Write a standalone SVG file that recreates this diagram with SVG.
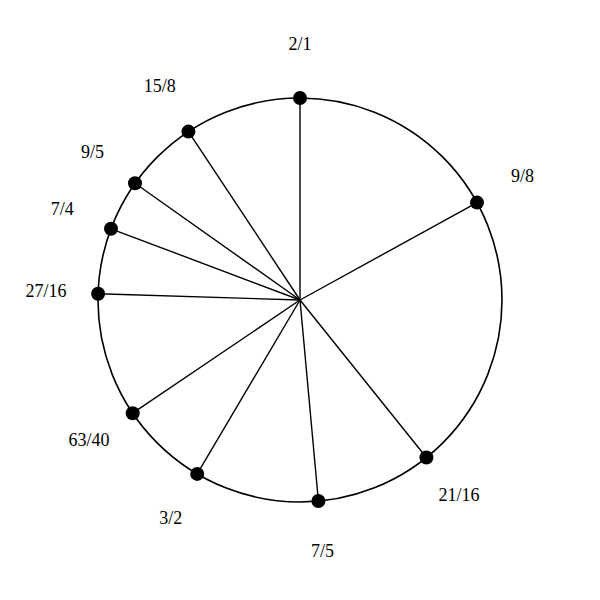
<svg xmlns="http://www.w3.org/2000/svg" width="600" height="600" viewBox="0 0 600 600">
<style>
.ring{fill:none;stroke:#000;stroke-width:1.6}
.spoke{stroke:#000;stroke-width:1.4}
.dot{fill:#000}
.lbl{font-family:"Liberation Serif","Times New Roman",serif;font-size:18px;fill:#000;text-anchor:middle}
</style>
<rect width="600" height="600" fill="#fff"/>
<circle class="ring" cx="300" cy="300" r="202"/>
<g id="connectors">
<line class="spoke" x1="300" y1="300" x2="300" y2="98"/>
<line class="spoke" x1="300" y1="300" x2="477" y2="202.6"/>
<line class="spoke" x1="300" y1="300" x2="426.4" y2="457.5"/>
<line class="spoke" x1="300" y1="300" x2="318.4" y2="501"/>
<line class="spoke" x1="300" y1="300" x2="197.2" y2="473.9"/>
<line class="spoke" x1="300" y1="300" x2="132.7" y2="413.2"/>
<line class="spoke" x1="300" y1="300" x2="98.1" y2="293.8"/>
<line class="spoke" x1="300" y1="300" x2="111" y2="228.8"/>
<line class="spoke" x1="300" y1="300" x2="135" y2="183.3"/>
<line class="spoke" x1="300" y1="300" x2="188.4" y2="131.6"/>
</g>
<g id="n-2-1"><circle class="dot" cx="300" cy="98" r="7"/><text class="lbl" x="300" y="50">2/1</text></g>
<g id="n-9-8"><circle class="dot" cx="477" cy="202.6" r="7"/><text class="lbl" x="522.5" y="182">9/8</text></g>
<g id="n-21-16"><circle class="dot" cx="426.4" cy="457.5" r="7"/><text class="lbl" x="459" y="501">21/16</text></g>
<g id="n-7-5"><circle class="dot" cx="318.4" cy="501" r="7"/><text class="lbl" x="322.5" y="557">7/5</text></g>
<g id="n-3-2"><circle class="dot" cx="197.2" cy="473.9" r="7"/><text class="lbl" x="170.7" y="524">3/2</text></g>
<g id="n-63-40"><circle class="dot" cx="132.7" cy="413.2" r="7"/><text class="lbl" x="89" y="446">63/40</text></g>
<g id="n-27-16"><circle class="dot" cx="98.1" cy="293.8" r="7"/><text class="lbl" x="46" y="297">27/16</text></g>
<g id="n-7-4"><circle class="dot" cx="111" cy="228.8" r="7"/><text class="lbl" x="62.3" y="215">7/4</text></g>
<g id="n-9-5"><circle class="dot" cx="135" cy="183.3" r="7"/><text class="lbl" x="92.6" y="158">9/5</text></g>
<g id="n-15-8"><circle class="dot" cx="188.4" cy="131.6" r="7"/><text class="lbl" x="159.7" y="92">15/8</text></g>
</svg>
